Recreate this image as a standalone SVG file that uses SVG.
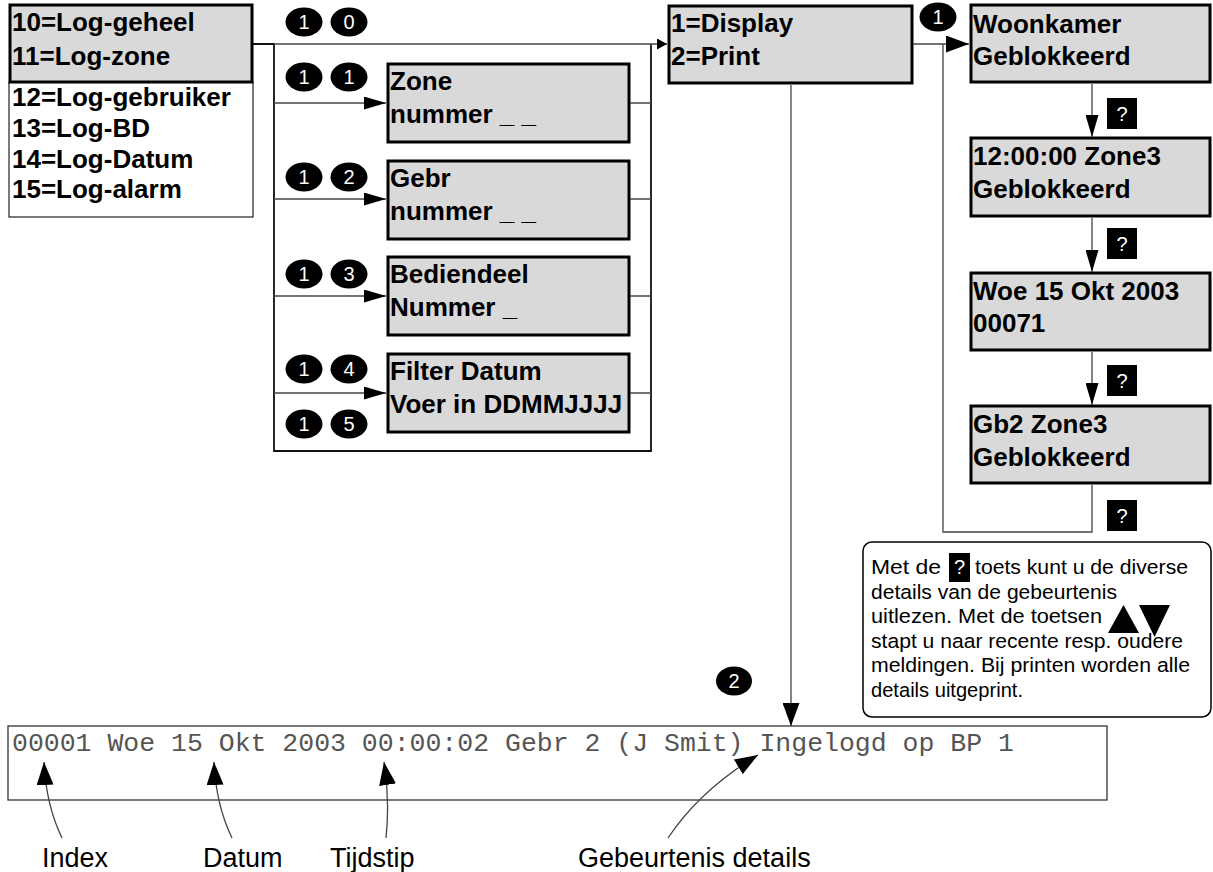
<svg xmlns="http://www.w3.org/2000/svg" width="1213" height="872" viewBox="0 0 1213 872">
<defs>
<style>
.box{fill:#d9d9d9;stroke:#000;stroke-width:3}
.t{font-family:"Liberation Sans",Arial,sans-serif;font-weight:bold;font-size:26px;fill:#000}
.cn{font-family:"Liberation Sans",Arial,sans-serif;font-size:20px;fill:#fff;text-anchor:middle}
.ln{stroke:#444;stroke-width:1.3;fill:none}
.lk{stroke:#111;stroke-width:1.8;fill:none}
.q{fill:#000}
.ct{font-family:"Liberation Sans",Arial,sans-serif;font-size:20.5px;fill:#000}
.lb{font-family:"Liberation Sans",Arial,sans-serif;font-size:27px;fill:#000}
.mono{font-family:"Liberation Mono","Courier New",monospace;font-size:26.5px;fill:#555}
</style>
<marker id="aM" viewBox="0 0 22 13" refX="22" refY="6.5" markerWidth="22" markerHeight="13" markerUnits="userSpaceOnUse" orient="auto"><path d="M0,0 L22,6.5 L0,13 z" fill="#000"/></marker>
<marker id="aS" viewBox="0 0 10 11" refX="10" refY="5.5" markerWidth="10" markerHeight="11" markerUnits="userSpaceOnUse" orient="auto"><path d="M0,0 L10,5.5 L0,11 z" fill="#000"/></marker>
<marker id="aB" viewBox="0 0 23 17" refX="23" refY="8.5" markerWidth="23" markerHeight="17" markerUnits="userSpaceOnUse" orient="auto"><path d="M0,0 L23,8.5 L0,17 z" fill="#000"/></marker>
</defs>
<rect width="1213" height="872" fill="#fff"/>

<g id="menu-log">
<rect x="9" y="82" width="244" height="135" fill="#fff" stroke="#222" stroke-width="1.2"/>
<rect class="box" x="10" y="5" width="242" height="77"/>
<text class="t" x="12" y="31">10=Log-geheel</text>
<text class="t" x="12" y="65">11=Log-zone</text>
<text class="t" x="12" y="106">12=Log-gebruiker</text>
<text class="t" x="12" y="137">13=Log-BD</text>
<text class="t" x="12" y="168">14=Log-Datum</text>
<text class="t" x="12" y="198">15=Log-alarm</text>
</g>

<g id="keys-10"><ellipse cx="304" cy="22" rx="18.5" ry="14.5"/><text class="cn" x="304" y="29">1</text><ellipse cx="349" cy="22" rx="18.5" ry="14.5"/><text class="cn" x="349" y="29">0</text></g>
<g id="keys-11"><ellipse cx="304" cy="77" rx="18.5" ry="14.5"/><text class="cn" x="304" y="84">1</text><ellipse cx="349" cy="77" rx="18.5" ry="14.5"/><text class="cn" x="349" y="84">1</text></g>
<g id="keys-12"><ellipse cx="304" cy="177" rx="18.5" ry="14.5"/><text class="cn" x="304" y="184">1</text><ellipse cx="349" cy="177" rx="18.5" ry="14.5"/><text class="cn" x="349" y="184">2</text></g>
<g id="keys-13"><ellipse cx="304" cy="274" rx="18.5" ry="14.5"/><text class="cn" x="304" y="281">1</text><ellipse cx="349" cy="274" rx="18.5" ry="14.5"/><text class="cn" x="349" y="281">3</text></g>
<g id="keys-14"><ellipse cx="304" cy="369" rx="18.5" ry="14.5"/><text class="cn" x="304" y="376">1</text><ellipse cx="349" cy="369" rx="18.5" ry="14.5"/><text class="cn" x="349" y="376">4</text></g>
<g id="keys-15"><ellipse cx="304" cy="424" rx="18.5" ry="14.5"/><text class="cn" x="304" y="431">1</text><ellipse cx="349" cy="424" rx="18.5" ry="14.5"/><text class="cn" x="349" y="431">5</text></g>

<g id="zone"><rect class="box" x="388" y="64" width="241" height="78"/><text class="t" x="390" y="90">Zone</text><text class="t" x="390" y="123">nummer _ _</text></g>
<g id="gebr"><rect class="box" x="388" y="161" width="241" height="78"/><text class="t" x="390" y="187">Gebr</text><text class="t" x="390" y="220">nummer _ _</text></g>
<g id="bediendeel"><rect class="box" x="388" y="257" width="241" height="78"/><text class="t" x="390" y="283">Bediendeel</text><text class="t" x="390" y="316">Nummer _</text></g>
<g id="filter"><rect class="box" x="388" y="354" width="241" height="78"/><text class="t" x="390" y="380">Filter Datum</text><text class="t" x="390" y="413">Voer in DDMMJJJJ</text></g>

<g id="display"><rect class="box" x="669" y="6" width="243" height="77"/><text class="t" x="671" y="32">1=Display</text><text class="t" x="671" y="65">2=Print</text></g>

<g id="key-1"><ellipse cx="938" cy="17" rx="18.5" ry="14.5"/><text class="cn" x="938" y="24">1</text></g>
<g id="key-2"><ellipse cx="734" cy="681" rx="18" ry="14.5"/><text class="cn" x="734" y="688">2</text></g>

<g id="woonkamer"><rect class="box" x="971" y="5" width="239" height="77"/><text class="t" x="973" y="33">Woonkamer</text><text class="t" x="973" y="65">Geblokkeerd</text></g>
<g id="tijd"><rect class="box" x="971" y="138" width="239" height="78"/><text class="t" x="973" y="165">12:00:00 Zone3</text><text class="t" x="973" y="198">Geblokkeerd</text></g>
<g id="datum"><rect class="box" x="971" y="273" width="239" height="77"/><text class="t" x="973" y="300">Woe 15 Okt 2003</text><text class="t" x="973" y="332">00071</text></g>
<g id="gebruiker"><rect class="box" x="971" y="406" width="239" height="77"/><text class="t" x="973" y="433">Gb2 Zone3</text><text class="t" x="973" y="466">Geblokkeerd</text></g>

<g id="q1"><rect class="q" x="1107" y="98" width="30" height="31"/><text class="cn" x="1122" y="121">?</text></g>
<g id="q2"><rect class="q" x="1107" y="228" width="30" height="31"/><text class="cn" x="1122" y="251">?</text></g>
<g id="q3"><rect class="q" x="1107" y="365" width="30" height="31"/><text class="cn" x="1122" y="388">?</text></g>
<g id="q4"><rect class="q" x="1107" y="500" width="30" height="31"/><text class="cn" x="1122" y="523">?</text></g>

<g id="note">
<rect x="863" y="542" width="348" height="175" rx="9" fill="#fff" stroke="#000" stroke-width="1.5"/>
<text class="ct" x="871" y="574" textLength="70" lengthAdjust="spacingAndGlyphs">Met de</text>
<rect class="q" x="949" y="553" width="21" height="29"/><text class="cn" x="959.5" y="574">?</text>
<text class="ct" x="975" y="574" textLength="213" lengthAdjust="spacingAndGlyphs">toets kunt u de diverse</text>
<text class="ct" x="871" y="598.5" textLength="246" lengthAdjust="spacingAndGlyphs">details van de gebeurtenis</text>
<text class="ct" x="871" y="623" textLength="231" lengthAdjust="spacingAndGlyphs">uitlezen. Met de toetsen</text>
<text class="ct" x="871" y="647.5" textLength="312" lengthAdjust="spacingAndGlyphs">stapt u naar recente resp. oudere</text>
<text class="ct" x="871" y="672" textLength="319" lengthAdjust="spacingAndGlyphs">meldingen. Bij printen worden alle</text>
<text class="ct" x="871" y="696.5" textLength="152" lengthAdjust="spacingAndGlyphs">details uitgeprint.</text>
<polygon points="1108,633 1139,633 1123.5,605" fill="#000"/>
<polygon points="1139,605 1170,605 1154.5,637" fill="#000"/>
</g>

<g id="log-line">
<rect x="8" y="726" width="1099" height="74" fill="#fff" stroke="#333" stroke-width="1.3"/>
<text class="mono" x="12" y="751">00001 Woe 15 Okt 2003 00:00:02 Gebr 2 (J Smit) Ingelogd op BP 1</text>
</g>

<g id="labels">
<text class="lb" x="42" y="867">Index</text>
<text class="lb" x="203" y="867">Datum</text>
<text class="lb" x="330" y="867">Tijdstip</text>
<text class="lb" x="578" y="867">Gebeurtenis details</text>
</g>

<g id="connectors">
<path class="lk" d="M253,44 H274 V451 H651 V44"/>
<path class="ln" d="M274,44 H667" marker-end="url(#aS)"/>
<path class="ln" d="M274,103 H386" marker-end="url(#aM)"/>
<path class="ln" d="M274,199 H386" marker-end="url(#aM)"/>
<path class="ln" d="M274,296 H386" marker-end="url(#aM)"/>
<path class="ln" d="M274,393 H386" marker-end="url(#aM)"/>
<path class="ln" d="M630,103 H651 M630,199 H651 M630,296 H651 M630,393 H651"/>
<path class="ln" d="M913,44 H969" marker-end="url(#aB)"/>
<path class="ln" d="M943,44 V532 H1092 V485"/>
<path class="ln" d="M1092,84 V137" marker-end="url(#aM)"/>
<path class="ln" d="M1092,218 V272" marker-end="url(#aM)"/>
<path class="ln" d="M1092,352 V405" marker-end="url(#aM)"/>
<path class="ln" d="M791,85 V726" marker-end="url(#aB)"/>
<path class="ln" d="M62,838 Q46,805 44,762" marker-end="url(#aB)"/>
<path class="ln" d="M232,838 Q216,805 214,762" marker-end="url(#aB)"/>
<path class="ln" d="M386,838 Q390,800 384,762" marker-end="url(#aB)"/>
<path class="ln" d="M668,838 Q700,790 758,755" marker-end="url(#aB)"/>
</g>
</svg>
